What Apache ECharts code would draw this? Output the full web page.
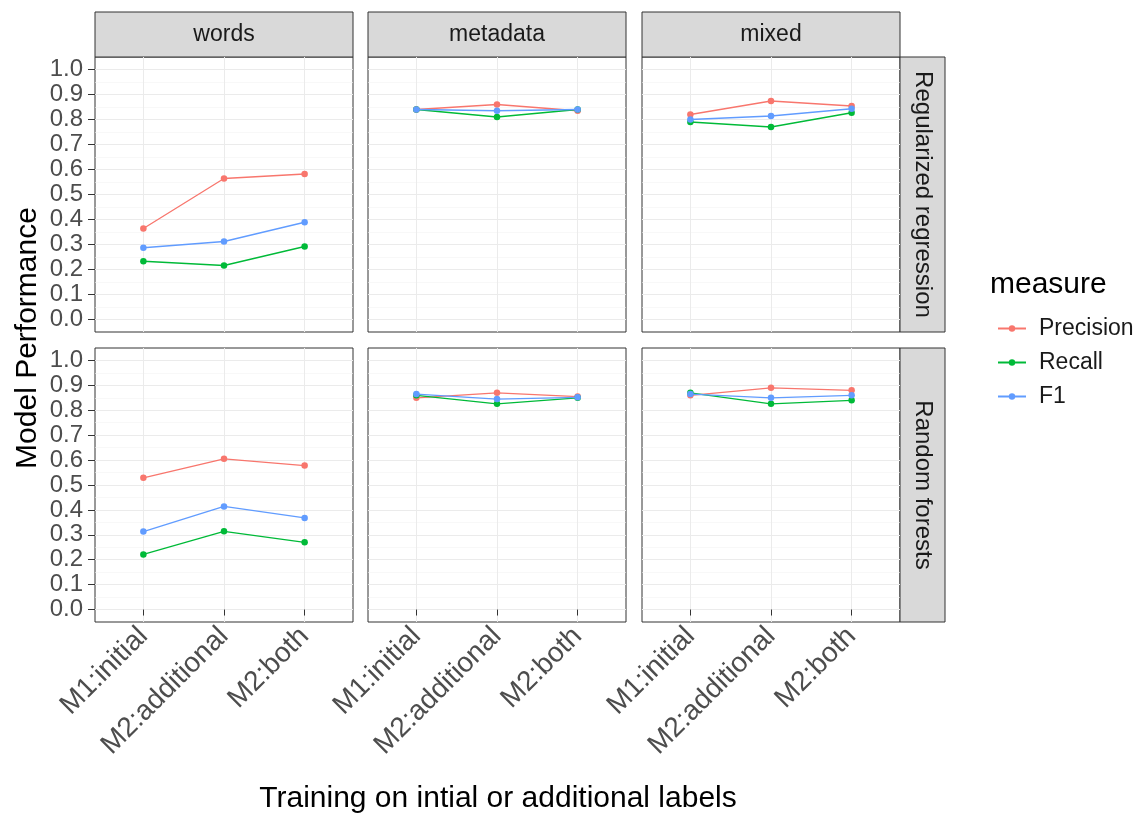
<!DOCTYPE html>
<html>
<head>
<meta charset="utf-8">
<script src="https://cdn.jsdelivr.net/npm/echarts@6/dist/echarts.min.js"></script>
<style>html,body{margin:0;padding:0;background:#fff}#main{width:1144px;height:817px}</style>
</head>
<body>
<div id="main"></div>
<script>
// ---- data ----
const categories = ['M1:initial', 'M2:additional', 'M2:both'];
const colLabels = ['words', 'metadata', 'mixed'];
const rowLabels = ['Regularized regression', 'Random forests'];
const measures = ['Precision', 'Recall', 'F1'];
const yTicks = [0, 0.1, 0.2, 0.3, 0.4, 0.5, 0.6, 0.7, 0.8, 0.9, 1.0];
const yMinorTicks = [0.05, 0.15, 0.25, 0.35, 0.45, 0.55, 0.65, 0.75, 0.85, 0.95];

const regWordsPrecision = [0.364, 0.564, 0.582];
const regWordsRecall    = [0.233, 0.216, 0.292];
const regWordsF1        = [0.287, 0.312, 0.389];
const regMetaPrecision  = [0.840, 0.860, 0.835];
const regMetaRecall     = [0.840, 0.810, 0.840];
const regMetaF1         = [0.840, 0.835, 0.840];
const regMixedPrecision = [0.820, 0.874, 0.854];
const regMixedRecall    = [0.790, 0.770, 0.827];
const regMixedF1        = [0.800, 0.814, 0.843];
const rfWordsPrecision  = [0.529, 0.605, 0.578];
const rfWordsRecall     = [0.221, 0.314, 0.270];
const rfWordsF1         = [0.313, 0.414, 0.368];
const rfMetaPrecision   = [0.850, 0.870, 0.855];
const rfMetaRecall      = [0.860, 0.826, 0.850];
const rfMetaF1          = [0.865, 0.845, 0.852];
const rfMixedPrecision  = [0.860, 0.890, 0.880];
const rfMixedRecall     = [0.870, 0.826, 0.840];
const rfMixedF1         = [0.865, 0.850, 0.860];

const panelData = [
  [[regWordsPrecision, regWordsRecall, regWordsF1],
   [regMetaPrecision, regMetaRecall, regMetaF1],
   [regMixedPrecision, regMixedRecall, regMixedF1]],
  [[rfWordsPrecision, rfWordsRecall, rfWordsF1],
   [rfMetaPrecision, rfMetaRecall, rfMetaF1],
   [rfMixedPrecision, rfMixedRecall, rfMixedF1]]
];

// ---- layout / style ----
const FONT = 'Liberation Sans, Arial, sans-serif';
const colors = ['#F8766D', '#00BA38', '#619CFF'];
const colLeft = [95, 368, 642];
const panelW = 258;
const rowTop = [57, 348];
const panelH = [275, 274];
const stripH = 45;
const stripW = 45;
const tickFont = 24;
const xLabelFont = 28;
const stripFont = 24;
const titleFont = 30;

const grids = [], xAxes = [], yAxes = [], series = [], graphics = [];
for (let r = 0; r < 2; r++) {
  for (let c = 0; c < 3; c++) {
    const g = r * 3 + c;
    grids.push({left: colLeft[c], top: rowTop[r], width: panelW, height: panelH[r],
      show: true, borderColor: '#333333', borderWidth: 1, backgroundColor: '#fff', z: 0});
    xAxes.push({type: 'value', gridIndex: g, min: 0.4, max: 3.6,
      axisLine: {show: false},
      axisTick: {show: r === 1, customValues: [1, 2, 3], length: 6, lineStyle: {color: '#333333'}},
      axisLabel: {show: r === 1, customValues: [1, 2, 3], rotate: 45, margin: 10,
        fontSize: xLabelFont, color: '#4d4d4d', fontFamily: FONT,
        formatter: v => categories[Math.round(v) - 1]},
      splitLine: {show: true, lineStyle: {color: '#ebebeb', width: 1}}
    });
    yAxes.push({type: 'value', gridIndex: g, min: -0.05, max: 1.05,
      axisLine: {show: false},
      axisTick: {show: c === 0, customValues: yTicks, length: 7, lineStyle: {color: '#333333'}},
      axisLabel: {show: c === 0, customValues: yTicks, margin: 12, fontSize: tickFont, color: '#4d4d4d',
        fontFamily: FONT, formatter: v => v.toFixed(1)},
      splitLine: {show: true, lineStyle: {color: '#ebebeb', width: 1}}
    });
    yAxes.push({type: 'value', gridIndex: g, min: -0.05, max: 1.05,
      axisLine: {show: false},
      axisTick: {show: false, customValues: yMinorTicks},
      axisLabel: {show: false, customValues: yMinorTicks},
      splitLine: {show: true, lineStyle: {color: '#f4f4f4', width: 0.6}}
    });
    for (let m = 0; m < 3; m++) {
      series.push({type: 'line', name: measures[m], xAxisIndex: g, yAxisIndex: g * 2,
        data: panelData[r][c][m].map((v, i) => [i + 1, v]),
        symbol: 'circle', symbolSize: 6.5, itemStyle: {color: colors[m]},
        lineStyle: {color: colors[m], width: 1.3}, animation: false, z: 2 + m});
    }
  }
}
// strips
for (let c = 0; c < 3; c++) {
  graphics.push({type: 'rect', shape: {x: colLeft[c], y: rowTop[0] - stripH, width: panelW, height: stripH},
    style: {fill: '#d9d9d9', stroke: '#333333', lineWidth: 1}});
  graphics.push({type: 'text', x: colLeft[c] + panelW / 2, y: rowTop[0] - stripH / 2,
    style: {text: colLabels[c], fill: '#1a1a1a', fontSize: stripFont - 1, fontFamily: FONT,
      align: 'center', verticalAlign: 'middle'}});
}
for (let r = 0; r < 2; r++) {
  const x0 = colLeft[2] + panelW;
  graphics.push({type: 'rect', shape: {x: x0, y: rowTop[r], width: stripW, height: panelH[r]},
    style: {fill: '#d9d9d9', stroke: '#333333', lineWidth: 1}});
  graphics.push({type: 'text', x: x0 + stripW / 2, y: rowTop[r] + panelH[r] / 2, rotation: -Math.PI / 2,
    style: {text: rowLabels[r], fill: '#1a1a1a', fontSize: stripFont, fontFamily: FONT,
      align: 'center', verticalAlign: 'middle'}});
}
// axis titles
graphics.push({type: 'text', x: 28, y: 338, rotation: Math.PI / 2,
  style: {text: 'Model Performance', fill: '#000', fontSize: titleFont, fontFamily: FONT,
    align: 'center', verticalAlign: 'middle'}});
graphics.push({type: 'text', x: 498, y: 799,
  style: {text: 'Training on intial or additional labels', fill: '#000', fontSize: titleFont,
    fontFamily: FONT, align: 'center', verticalAlign: 'middle'}});
graphics.push({type: 'text', x: 990, y: 285,
  style: {text: 'measure', fill: '#000', fontSize: titleFont, fontFamily: FONT,
    align: 'left', verticalAlign: 'middle'}});

const chart = echarts.init(document.getElementById('main'));
chart.setOption({
  animation: false,
  grid: grids, xAxis: xAxes, yAxis: yAxes, series: series,
  legend: {data: measures, orient: 'vertical', left: 992, top: 312, itemWidth: 28, itemHeight: 8, itemGap: 11,
    textStyle: {fontSize: 23, color: '#1a1a1a', fontFamily: FONT, padding: [0, 0, 0, 8]},
    selectedMode: false},
  graphic: graphics
});
</script>
</body>
</html>
